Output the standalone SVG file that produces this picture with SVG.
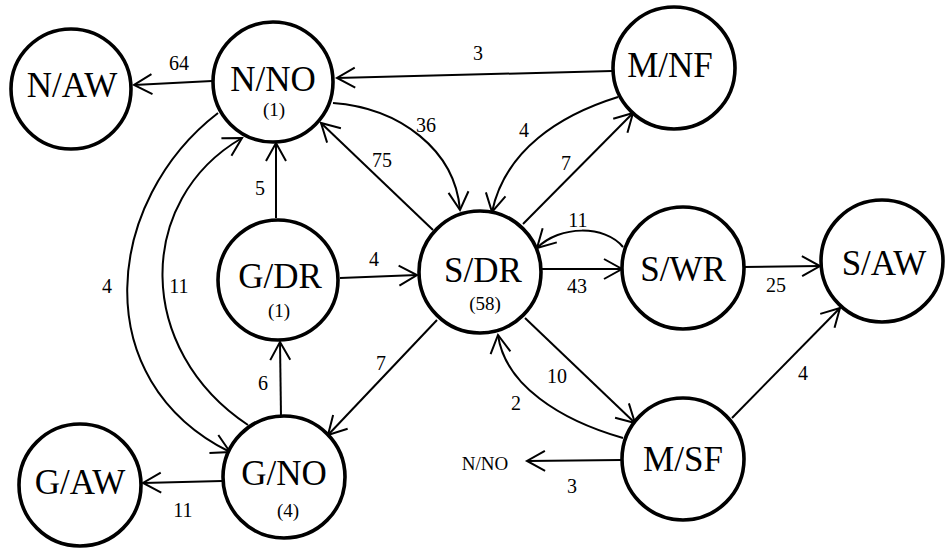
<svg xmlns="http://www.w3.org/2000/svg" width="948" height="548" viewBox="0 0 948 548">
<defs>
<marker id="arr" markerUnits="userSpaceOnUse" markerWidth="24" markerHeight="24" viewBox="0 0 24 24" refX="21" refY="12" orient="auto">
<path d="M3,2 L21,12 L3,22" fill="none" stroke="#000" stroke-width="2"/>
</marker>
</defs>
<rect width="948" height="548" fill="#fff"/>
<g id="edges" fill="none" stroke="#000" stroke-width="2" marker-end="url(#arr)">
<path d="M212,81 L134,85"/>
<path d="M612,71 L337,78"/>
<path d="M433,230 L321,123"/>
<path d="M333,103 C400,108 455,150 460,210"/>
<path d="M276,218 L276,143"/>
<path d="M340,278 L417,275"/>
<path d="M281,417 L280,342"/>
<path d="M437,320 L328,435"/>
<path d="M218,113 C105,200 85,380 230,452"/>
<path d="M248,425 C135,350 135,200 242,138"/>
<path d="M222,481 L143,483"/>
<path d="M523,224 L633,113"/>
<path d="M618,97 C560,115 505,150 492,212"/>
<path d="M623,247 C605,225 560,225 537,248"/>
<path d="M542,269 L622,269"/>
<path d="M743,267 L820,266"/>
<path d="M732,418 L840,308"/>
<path d="M525,318 L635,423"/>
<path d="M623,438 C560,420 505,385 498,335"/>
<path d="M621,460 L527,461"/>
</g>
<g id="nodes" font-family="Liberation Serif" text-anchor="middle" fill="#000">
<g fill="#fff" stroke="#000" stroke-width="3.6">
<circle cx="71" cy="89" r="60"/>
<circle cx="273" cy="82" r="60"/>
<circle cx="674" cy="68" r="61"/>
<circle cx="480" cy="272" r="61"/>
<circle cx="278" cy="280" r="60"/>
<circle cx="284" cy="477" r="61"/>
<circle cx="80" cy="485" r="61"/>
<circle cx="683" cy="268" r="61"/>
<circle cx="882" cy="261" r="61"/>
<circle cx="683" cy="459" r="61"/>
</g>
<g font-size="35">
<text id="t-naw" x="72" y="97">N/AW</text>
<text id="t-nno" x="273" y="91">N/NO</text>
<text id="t-mnf" x="670" y="77">M/NF</text>
<text id="t-sdr" x="483" y="282">S/DR</text>
<text id="t-gdr" x="280" y="288">G/DR</text>
<text id="t-gno" x="284" y="485">G/NO</text>
<text id="t-gaw" x="80" y="494">G/AW</text>
<text id="t-swr" x="683" y="281">S/WR</text>
<text id="t-saw" x="884" y="275">S/AW</text>
<text id="t-msf" x="683" y="471">M/SF</text>
</g>
<g font-size="19">
<text x="274" y="116">(1)</text>
<text x="485" y="310">(58)</text>
<text x="279" y="317">(1)</text>
<text x="288" y="517">(4)</text>
</g>
</g>
<g id="labels" font-family="Liberation Serif" text-anchor="middle" fill="#000" font-size="20">
<text x="179" y="70">64</text>
<text x="478" y="60">3</text>
<text x="426" y="132">36</text>
<text x="382" y="167">75</text>
<text x="260" y="195">5</text>
<text x="374" y="266">4</text>
<text x="107" y="293">4</text>
<text x="179" y="293">11</text>
<text x="263" y="390">6</text>
<text x="381" y="370">7</text>
<text x="183" y="517">11</text>
<text x="524" y="137">4</text>
<text x="566" y="170">7</text>
<text x="578" y="227">11</text>
<text x="577" y="293">43</text>
<text x="776" y="292">25</text>
<text x="557" y="383">10</text>
<text x="516" y="410">2</text>
<text x="803" y="380">4</text>
<text x="572" y="493">3</text>
<text x="485" y="470" font-size="19">N/NO</text>
</g>
</svg>
